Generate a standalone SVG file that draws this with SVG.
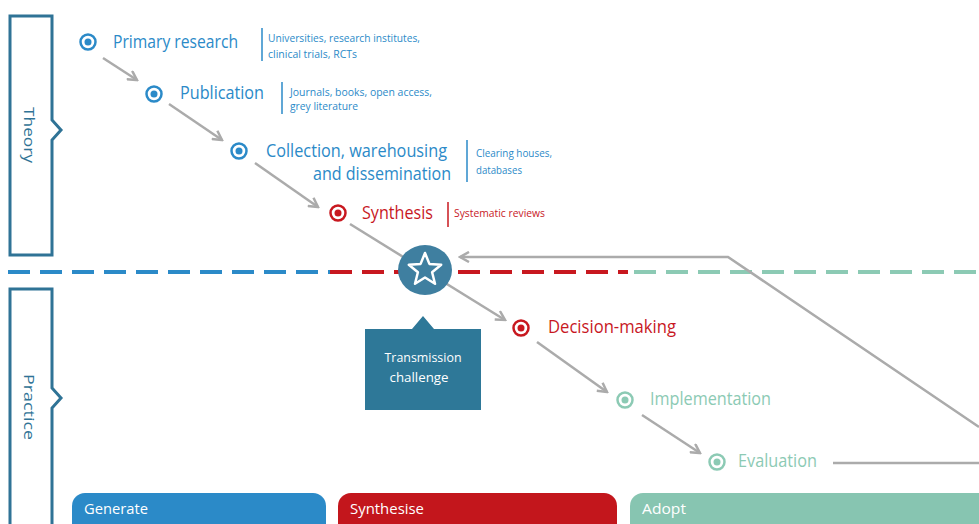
<svg xmlns="http://www.w3.org/2000/svg" width="979" height="524" viewBox="0 0 979 524">
<defs>
<style>
.main{font-family:"Open Sans","Noto Sans","DejaVu Sans",sans-serif;font-size:18px}
.small{font-family:"Open Sans","Noto Sans","DejaVu Sans",sans-serif;font-size:10px}
.blue{fill:#2b8ac8}
.red{fill:#c8181f}
.green{fill:#8ccab4}
.conn{fill:none;stroke:#ababab;stroke-width:2.5}
.side{fill:#fff;stroke:#2f7396;stroke-width:3}
.sidetxt{font-family:"Open Sans","Noto Sans",sans-serif;font-size:14px;fill:#2f7396}
.bar{font-family:"Open Sans","Noto Sans",sans-serif;font-size:14px;fill:#fff}
.div{stroke-width:1.5}
</style>
<marker id="ah" viewBox="0 0 12 12" refX="10" refY="6" markerWidth="12" markerHeight="12" markerUnits="userSpaceOnUse" orient="auto">
<path d="M1,1 L10,6 L1,11" fill="none" stroke="#ababab" stroke-width="2.5"/>
</marker>
</defs>
<rect width="979" height="524" fill="#fff"/>

<g id="theory-box">
<path class="side" d="M10,16 H52 V120 L61,130 L52,140 V255 H10 Z"/>
<text class="sidetxt" transform="translate(24,135) rotate(90)" text-anchor="middle" textLength="56" lengthAdjust="spacingAndGlyphs">Theory</text>
</g>
<g id="practice-box">
<path class="side" d="M10,530 V289 H52 V388 L61,398 L52,408 V530"/>
<text class="sidetxt" transform="translate(24,407) rotate(90)" text-anchor="middle" textLength="66" lengthAdjust="spacingAndGlyphs">Practice</text>
</g>

<g id="divider">
<line x1="8" y1="272" x2="330" y2="272" stroke="#2b8ac8" stroke-width="4" stroke-dasharray="22 10"/>
<line x1="330" y1="272" x2="628" y2="272" stroke="#c8181f" stroke-width="4" stroke-dasharray="22 10"/>
<line x1="634" y1="272" x2="979" y2="272" stroke="#8ccab4" stroke-width="4" stroke-dasharray="22 10"/>
</g>

<g id="connectors">
<line class="conn" x1="103" y1="58" x2="137" y2="80" marker-end="url(#ah)"/>
<line class="conn" x1="169" y1="104" x2="222" y2="140" marker-end="url(#ah)"/>
<line class="conn" x1="255" y1="163" x2="318" y2="207" marker-end="url(#ah)"/>
<line class="conn" x1="350" y1="224" x2="505" y2="320" marker-end="url(#ah)"/>
<line class="conn" x1="537" y1="342" x2="607" y2="392" marker-end="url(#ah)"/>
<line class="conn" x1="642" y1="415" x2="700" y2="453" marker-end="url(#ah)"/>
<line class="conn" x1="833" y1="463" x2="979" y2="463"/>
<polyline class="conn" points="979,427 728,257 460,257" marker-end="url(#ah)"/>
</g>

<g id="primary-research">
<circle cx="88" cy="42" r="7.5" fill="none" stroke="#2b8ac8" stroke-width="2.5"/>
<circle cx="88" cy="42" r="3.5" class="blue"/>
<text class="main blue" x="113" y="48" textLength="125" lengthAdjust="spacingAndGlyphs">Primary research</text>
<line class="div" x1="262" y1="28" x2="262" y2="61" stroke="#2b8ac8"/>
<text class="small blue" x="268" y="41.5" textLength="152" lengthAdjust="spacingAndGlyphs">Universities, research institutes,</text>
<text class="small blue" x="268" y="57.5" textLength="89" lengthAdjust="spacingAndGlyphs">clinical trials, RCTs</text>
</g>

<g id="publication">
<circle cx="154" cy="94" r="7.5" fill="none" stroke="#2b8ac8" stroke-width="2.5"/>
<circle cx="154" cy="94" r="3.5" class="blue"/>
<text class="main blue" x="180" y="99" textLength="84" lengthAdjust="spacingAndGlyphs">Publication</text>
<line class="div" x1="282" y1="82" x2="282" y2="114" stroke="#2b8ac8"/>
<text class="small blue" x="290" y="96" textLength="142" lengthAdjust="spacingAndGlyphs">Journals, books, open access,</text>
<text class="small blue" x="290" y="110" textLength="68" lengthAdjust="spacingAndGlyphs">grey literature</text>
</g>

<g id="collection">
<circle cx="239" cy="151" r="7.5" fill="none" stroke="#2b8ac8" stroke-width="2.5"/>
<circle cx="239" cy="151" r="3.5" class="blue"/>
<text class="main blue" x="266" y="157" textLength="181" lengthAdjust="spacingAndGlyphs">Collection, warehousing</text>
<text class="main blue" x="313" y="180" textLength="138" lengthAdjust="spacingAndGlyphs">and dissemination</text>
<line class="div" x1="467" y1="140" x2="467" y2="182" stroke="#2b8ac8"/>
<text class="small blue" x="476" y="157" textLength="76" lengthAdjust="spacingAndGlyphs">Clearing houses,</text>
<text class="small blue" x="476" y="173.5" textLength="46" lengthAdjust="spacingAndGlyphs">databases</text>
</g>

<g id="synthesis">
<circle cx="338" cy="213" r="7.5" fill="none" stroke="#c8181f" stroke-width="2.5"/>
<circle cx="338" cy="213" r="3.5" class="red"/>
<text class="main red" x="362" y="219" textLength="71" lengthAdjust="spacingAndGlyphs">Synthesis</text>
<line class="div" x1="448" y1="202" x2="448" y2="227" stroke="#c8181f"/>
<text class="small red" x="454" y="216.5" textLength="91" lengthAdjust="spacingAndGlyphs">Systematic reviews</text>
</g>

<g id="transmission-star">
<ellipse cx="425" cy="270" rx="27" ry="25" fill="#3f7fa0"/>
<polygon points="425,253 429.4,263.9 441.2,264.7 432.1,272.3 435,283.8 425,277.5 415,283.8 417.9,272.3 408.8,264.7 420.6,263.9" fill="none" stroke="#fff" stroke-width="2.5" stroke-linejoin="round"/>
</g>

<g id="transmission-challenge">
<path d="M365,329 H412 L423,316 L434,329 H481 V410 H365 Z" fill="#2e7898"/>
<text x="423" y="362" text-anchor="middle" font-family="Open Sans, Noto Sans, sans-serif" font-size="12" fill="#fff" textLength="77" lengthAdjust="spacingAndGlyphs">Transmission</text>
<text x="419" y="382" text-anchor="middle" font-family="Open Sans, Noto Sans, sans-serif" font-size="12" fill="#fff" textLength="59" lengthAdjust="spacingAndGlyphs">challenge</text>
</g>

<g id="decision-making">
<circle cx="521" cy="328" r="7.5" fill="none" stroke="#c8181f" stroke-width="2.5"/>
<circle cx="521" cy="328" r="3.5" class="red"/>
<text class="main red" x="548" y="333" textLength="128" lengthAdjust="spacingAndGlyphs">Decision-making</text>
</g>

<g id="implementation">
<circle cx="625" cy="400" r="7.5" fill="none" stroke="#8ccab4" stroke-width="2.5"/>
<circle cx="625" cy="400" r="3.5" class="green"/>
<text class="main green" x="650" y="405" textLength="121" lengthAdjust="spacingAndGlyphs">Implementation</text>
</g>

<g id="evaluation">
<circle cx="717" cy="462" r="7.5" fill="none" stroke="#8ccab4" stroke-width="2.5"/>
<circle cx="717" cy="462" r="3.5" class="green"/>
<text class="main green" x="738" y="467" textLength="79" lengthAdjust="spacingAndGlyphs">Evaluation</text>
</g>

<g id="generate">
<rect x="72" y="493" width="254" height="50" rx="13" fill="#2b8ac8"/>
<text class="bar" x="84" y="514" textLength="64" lengthAdjust="spacingAndGlyphs">Generate</text>
</g>
<g id="synthesise">
<rect x="338" y="493" width="279" height="50" rx="13" fill="#c3161c"/>
<text class="bar" x="350" y="514" textLength="74" lengthAdjust="spacingAndGlyphs">Synthesise</text>
</g>
<g id="adopt">
<rect x="630" y="493" width="370" height="50" rx="13" fill="#87c5b1"/>
<text class="bar" x="642" y="514" textLength="44" lengthAdjust="spacingAndGlyphs">Adopt</text>
</g>
</svg>
